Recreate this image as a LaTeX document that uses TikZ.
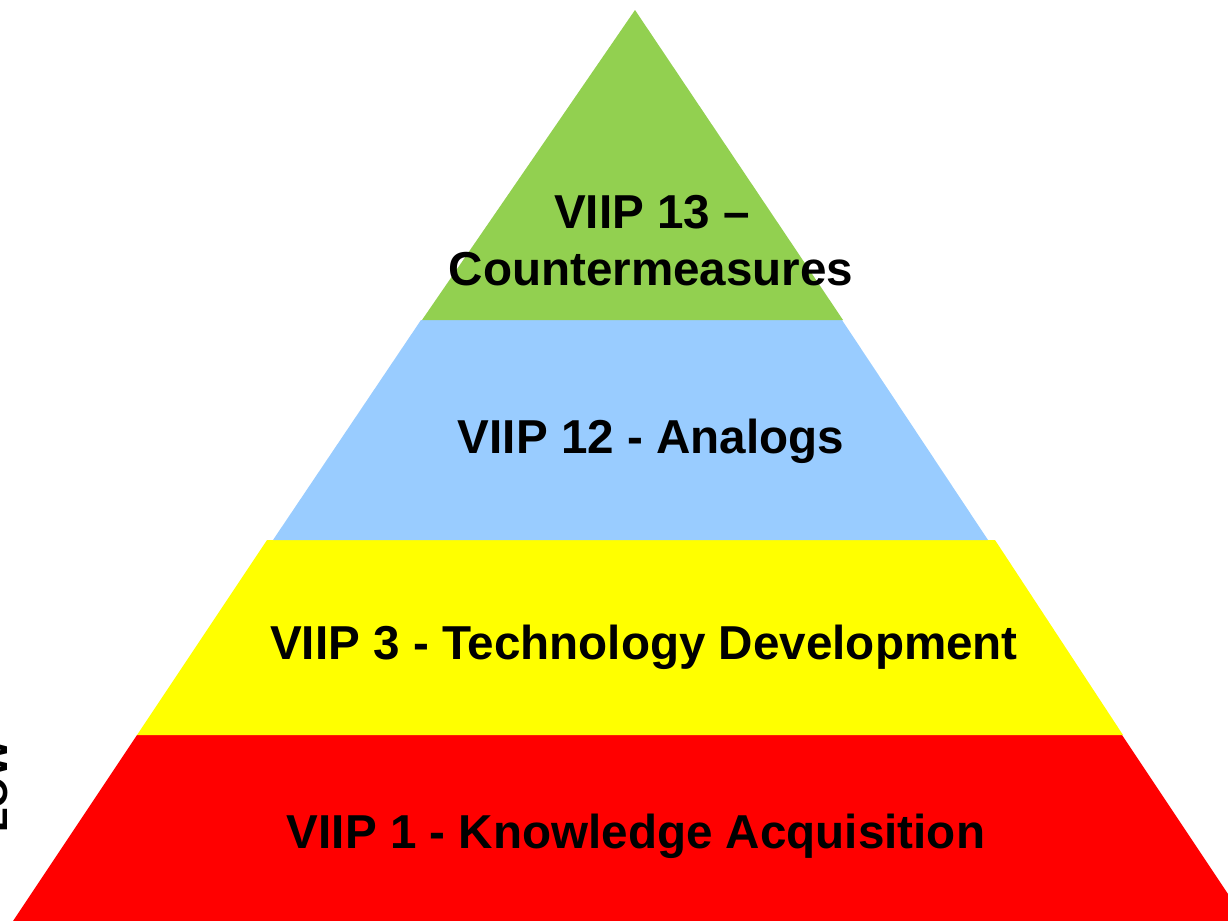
\documentclass[tikz,border=0pt]{standalone}
\usepackage{fontspec}
\setmainfont{Liberation Sans}
\definecolor{lvgreen}{HTML}{92D050}
\definecolor{lvblue}{HTML}{99CCFF}
\definecolor{lvyellow}{HTML}{FFFF00}
\definecolor{lvred}{HTML}{FF0000}
\tikzset{
  layertext/.style={font=\fontsize{23.8pt}{28.5pt}\selectfont\bfseries, text=black, inner sep=0pt, anchor=base, align=center},
  sidetext/.style={font=\fontsize{20pt}{24pt}\selectfont\bfseries, text=black, inner sep=0pt, rotate=90, anchor=base west}
}
\begin{document}
\begin{tikzpicture}[x=0.5pt,y=-0.5pt]
\useasboundingbox (0,0) rectangle (1228,921);
% layers
\fill[lvred] (137,735) -- (1122,735) -- (1246,921) -- (13,921) -- cycle;
\fill[lvyellow] (267,540) -- (995,540) -- (1123,735) -- (137,735) -- cycle;
\fill[lvblue] (421,320) -- (842,320) -- (988,540) -- (273,540) -- cycle;
\fill[lvgreen] (635,10) -- (843,320) -- (422,320) -- cycle;
% texts
\node[layertext] (t13a) at (652,228) {VIIP 13 –};
\node[layertext] (t13b) at (651,285) {Countermeasures};
\node[layertext] (t12) at (651,453) {VIIP 12 - Analogs};
\node[layertext] (t3) at (644,659) {VIIP 3 - Technology Development};
\node[layertext] (t1) at (636,848) {VIIP 1 - Knowledge Acquisition};
\node[sidetext] (low) at (8,833) {LOW};
\end{tikzpicture}
\end{document}
